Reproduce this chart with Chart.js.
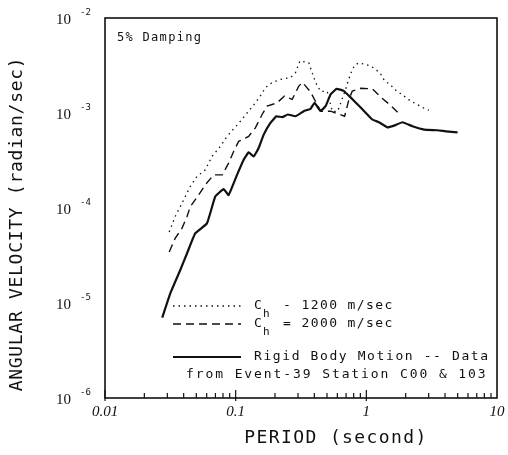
<!DOCTYPE html>
<html>
<head>
<meta charset="utf-8">
<script src="https://cdn.jsdelivr.net/npm/chart.js@4.4.1/dist/chart.umd.min.js"></script>
<style>
  html, body { margin: 0; padding: 0; background: #fff; }
  canvas { display: block; }
</style>
</head>
<body>
<canvas id="chartSpectrum" width="508" height="455"></canvas>
<script>
// Espectro de velocidad angular, 5% de amortiguamiento
const ink = '#111';

// Ch = 1200 m/sec (punteada)
const period1200 = [0.031, 0.0344, 0.0388, 0.0449, 0.0505, 0.0585, 0.0659, 0.0763, 0.0859, 0.1006, 0.1086, 0.1222, 0.1415, 0.1546, 0.1689, 0.190, 0.220, 0.263, 0.287, 0.310, 0.363, 0.386, 0.409, 0.446, 0.502, 0.549, 0.603, 0.694, 0.732, 0.772, 0.814, 0.878, 1.08, 1.20, 1.29, 1.38, 1.52, 1.65, 1.94, 2.19, 2.46, 2.69, 3.01];
const vel1200 = [5.6e-5, 8.1e-5, 1.12e-4, 1.68e-4, 2.14e-4, 2.52e-4, 3.49e-4, 4.45e-4, 5.68e-4, 7.25e-4, 8.19e-4, 1.0e-3, 1.28e-3, 1.51e-3, 1.85e-3, 2.09e-3, 2.26e-3, 2.36e-3, 2.66e-3, 3.53e-3, 3.38e-3, 2.62e-3, 2.10e-3, 1.69e-3, 1.69e-3, 1.04e-3, 1.04e-3, 1.77e-3, 2.26e-3, 2.75e-3, 3.18e-3, 3.38e-3, 3.13e-3, 2.82e-3, 2.56e-3, 2.17e-3, 2.0e-3, 1.77e-3, 1.51e-3, 1.33e-3, 1.23e-3, 1.14e-3, 1.07e-3];

// Ch = 2000 m/sec (discontinua)
const period2000 = [0.031, 0.0344, 0.0388, 0.0424, 0.0449, 0.052, 0.0585, 0.0678, 0.079, 0.0883, 0.0965, 0.1054, 0.1257, 0.1415, 0.1594, 0.174, 0.2077, 0.2362, 0.2707, 0.3042, 0.3247, 0.374, 0.4464, 0.5327, 0.682, 0.736, 0.781, 0.905, 1.112, 1.30, 1.54, 1.80];
const vel2000 = [3.45e-5, 4.78e-5, 6.1e-5, 8.1e-5, 1.03e-4, 1.37e-4, 1.75e-4, 2.23e-4, 2.23e-4, 2.97e-4, 3.94e-4, 5.03e-4, 5.68e-4, 6.97e-4, 9.64e-4, 1.18e-3, 1.28e-3, 1.51e-3, 1.39e-3, 1.92e-3, 2.10e-3, 1.67e-3, 1.045e-3, 1.045e-3, 9.25e-4, 1.39e-3, 1.70e-3, 1.82e-3, 1.80e-3, 1.45e-3, 1.20e-3, 9.64e-4];

// Movimiento de cuerpo rigido (continua)
const periodRigid = [0.0274, 0.0315, 0.0376, 0.0424, 0.049, 0.0603, 0.0698, 0.0809, 0.0883, 0.1024, 0.1151, 0.1257, 0.1373, 0.150, 0.1639, 0.1845, 0.2051, 0.2269, 0.2505, 0.287, 0.3322, 0.374, 0.4015, 0.4464, 0.4875, 0.5327, 0.5922, 0.670, 0.758, 0.905, 1.112, 1.25, 1.45, 1.63, 1.89, 2.256, 2.77, 3.51, 4.06, 4.99];
const velRigid = [7.0e-6, 1.25e-5, 2.21e-5, 3.32e-5, 5.4e-5, 6.89e-5, 1.32e-4, 1.58e-4, 1.37e-4, 2.23e-4, 3.22e-4, 3.85e-4, 3.49e-4, 4.28e-4, 5.92e-4, 7.87e-4, 9.25e-4, 9.03e-4, 9.64e-4, 9.25e-4, 1.045e-3, 1.108e-3, 1.282e-3, 1.05e-3, 1.18e-3, 1.57e-3, 1.795e-3, 1.71e-3, 1.46e-3, 1.144e-3, 8.54e-4, 7.99e-4, 7.07e-4, 7.37e-4, 7.99e-4, 7.25e-4, 6.69e-4, 6.58e-4, 6.42e-4, 6.26e-4];

// ejes
const xTickValues = [0.01, 0.1, 1, 10];
const xTickLabels = ['0.01', '0.1', '1', '10'];
const yTickValues = [1e-2, 1e-3, 1e-4, 1e-5, 1e-6];
const yTickExponents = ['-2', '-3', '-4', '-5', '-6'];

const legendLines = [
  { sub: 'h', pre: 'C', text: '- 1200 m/sec', dash: [1.5, 4], width: 1.3 },
  { sub: 'h', pre: 'C', text: '= 2000 m/sec', dash: [8, 5], width: 1.4 },
  { sub: '', pre: '', text: 'Rigid Body Motion -- Data', dash: [], width: 2.2 }
];

const toPoints = (xs, ys) => xs.map((x, i) => ({ x: x, y: ys[i] }));

// dibuja marco, marcas, etiquetas y leyenda
const decor = {
  id: 'decor',
  afterDraw(chart) {
    const ctx = chart.ctx;
    const a = chart.chartArea;
    const xs = chart.scales.x;
    const ys = chart.scales.y;
    ctx.save();
    ctx.strokeStyle = ink;
    ctx.fillStyle = ink;

    // marco
    ctx.lineWidth = 1.6;
    ctx.strokeRect(a.left, a.top, a.right - a.left, a.bottom - a.top);

    // marcas del eje x hacia dentro
    ctx.lineWidth = 1.2;
    for (let e = -2; e <= 0; e++) {
      for (let k = 1; k <= 9; k++) {
        const px = xs.getPixelForValue(k * Math.pow(10, e));
        const len = k === 1 ? 8 : 5;
        ctx.beginPath();
        ctx.moveTo(px, a.bottom + (k === 1 ? 3 : 0));
        ctx.lineTo(px, a.bottom - len);
        ctx.stroke();
      }
    }

    // etiquetas eje x
    ctx.font = 'italic 15px "Liberation Serif"';
    ctx.textAlign = 'center';
    ctx.textBaseline = 'middle';
    xTickValues.forEach((v, i) => {
      ctx.fillText(xTickLabels[i], xs.getPixelForValue(v), a.bottom + 14);
    });

    // etiquetas eje y (10 con exponente)
    yTickValues.forEach((v, i) => {
      const py = ys.getPixelForValue(v);
      ctx.font = '15px "Liberation Serif"';
      ctx.textAlign = 'right';
      ctx.fillText('10', 71, py + 2);
      ctx.font = '9px "DejaVu Sans Mono"';
      ctx.textAlign = 'left';
      ctx.fillText(yTickExponents[i], 80, py - 5);
    });

    // titulos
    ctx.font = '18px "DejaVu Sans Mono"';
    ctx.letterSpacing = '1.4px';
    ctx.textAlign = 'center';
    ctx.fillText('PERIOD (second)', (a.left + a.right) / 2 + 35, 438);
    ctx.save();
    ctx.translate(17, 224);
    ctx.rotate(-Math.PI / 2);
    ctx.letterSpacing = '0.7px';
    ctx.fillText('ANGULAR VELOCITY (radian/sec)', 0, 0);
    ctx.restore();

    // nota
    ctx.font = '12px "DejaVu Sans Mono"';
    ctx.letterSpacing = '1.3px';
    ctx.textAlign = 'left';
    ctx.fillText('5% Damping', 117, 38);

    // leyenda
    const rows = [306, 324, 357];
    legendLines.forEach((l, i) => {
      const y = rows[i];
      ctx.lineWidth = l.width;
      ctx.setLineDash(l.dash);
      ctx.beginPath();
      ctx.moveTo(173, y);
      ctx.lineTo(241, y);
      ctx.stroke();
      ctx.setLineDash([]);
      ctx.font = '13px "DejaVu Sans Mono"';
      ctx.letterSpacing = '1.4px';
      if (l.pre) {
        ctx.fillText(l.pre, 254, y);
        ctx.font = '11px "DejaVu Sans Mono"';
        ctx.fillText(l.sub, 263, y + 8);
        ctx.font = '13px "DejaVu Sans Mono"';
        ctx.fillText(l.text, 283, y);
      } else {
        ctx.letterSpacing = '1.6px';
        ctx.fillText(l.text, 254, y);
      }
    });
    ctx.letterSpacing = '1.9px';
    ctx.fillText('from Event-39 Station C00 & 103', 186, 375);
    ctx.restore();
  }
};

new Chart(document.getElementById('chartSpectrum'), {
  type: 'line',
  data: {
    datasets: [{
      label: 'Ch - 1200 m/sec',
      data: toPoints(period1200, vel1200),
      borderColor: ink,
      borderWidth: 1.3,
      borderDash: [1.5, 4],
      pointRadius: 0,
      tension: 0
    }, {
      label: 'Ch = 2000 m/sec',
      data: toPoints(period2000, vel2000),
      borderColor: ink,
      borderWidth: 1.4,
      borderDash: [8, 5],
      pointRadius: 0,
      tension: 0
    }, {
      label: 'Rigid Body Motion -- Data from Event-39 Station C00 & 103',
      data: toPoints(periodRigid, velRigid),
      borderColor: ink,
      borderWidth: 2.2,
      pointRadius: 0,
      tension: 0.1
    }]
  },
  options: {
    responsive: false,
    animation: false,
    layout: { padding: { left: 105, right: 11, top: 18, bottom: 57 } },
    plugins: { legend: { display: false }, tooltip: { enabled: false } },
    scales: {
      x: { type: 'logarithmic', min: 0.01, max: 10, display: false },
      y: { type: 'logarithmic', min: 1e-6, max: 1e-2, display: false }
    }
  },
  plugins: [decor]
});
</script>
</body>
</html>
